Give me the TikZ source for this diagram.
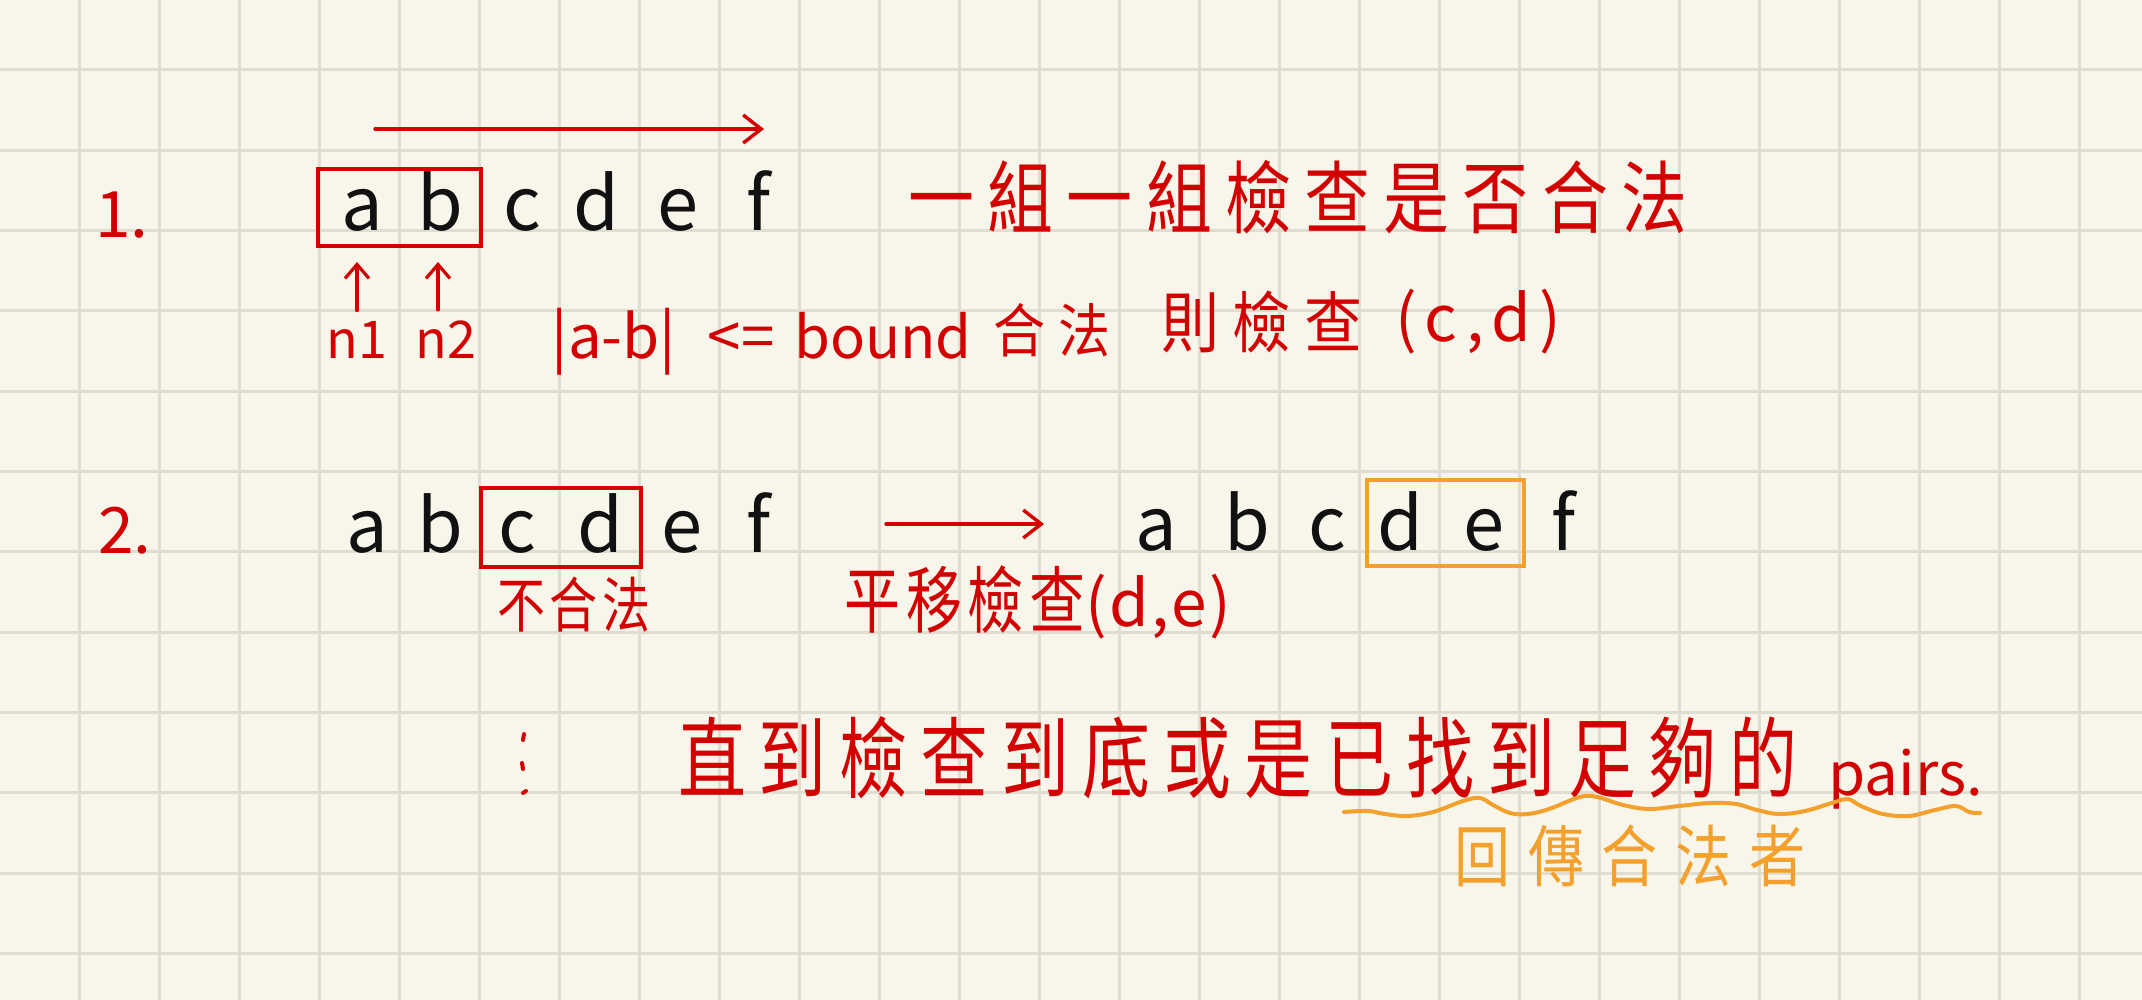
\documentclass[tikz,border=0pt]{standalone}
\usepackage{fontspec}
\usepackage{graphicx}
\newfontfamily\cjk{Noto Sans CJK TC}
\usetikzlibrary{arrows.meta}
\definecolor{bg}{HTML}{F8F6EA}
\definecolor{gridc}{HTML}{DEDDD0}
\definecolor{pen}{HTML}{D20000}
\definecolor{ink}{HTML}{111111}
\definecolor{amber}{HTML}{F4A02C}
\newcommand\cjt[4]{\scalebox{1}[#3]{\fontsize{#1}{#1}\selectfont\cjk\addfontfeature{LetterSpace=#2}#4}}
\newcommand\lat[2]{\fontsize{#1}{#1}\selectfont\cjk #2}
\tikzset{
  gridline/.style={draw=gridc, line width=1.5pt},
  letter/.style={text=ink, inner sep=0, anchor=base, font=\fontsize{37}{37}\selectfont\cjk},
  redtxt/.style={text=pen, inner sep=0},
  orgtxt/.style={text=amber, inner sep=0},
  redbox/.style={draw=pen, line width=2pt, inner sep=0},
  orgbox/.style={draw=amber, line width=2pt, inner sep=0},
  bigarrow/.style={draw=pen, line width=1.7pt, line cap=round, -{Straight Barb[length=9pt,width=14pt]}},
  smallarrow/.style={draw=pen, line width=1.6pt, line cap=round, -{Straight Barb[length=7pt,width=12pt]}},
  wave/.style={draw=amber, line width=2pt, line cap=round, line join=round},
  dotmark/.style={draw=pen, line width=2pt, line cap=round}
}
\begin{document}
\begin{tikzpicture}[x=0.5pt,y=-0.5pt]
\useasboundingbox (0,0) rectangle (2142,1000);
\fill[bg] (0,0) rectangle (2142,1000);
% grid
\foreach \k in {1,...,26} \draw[gridline] (80*\k-1,0) -- (80*\k-1,1000);
\foreach \k in {0,...,11} \draw[gridline] (0,70+80.3*\k) -- (2142,70+80.3*\k);

% ---------- row 1 ----------
\node[redtxt, anchor=base] (one) at (122,238) {\lat{32}{1.}};
\coordinate (s1) at (375,129);
\coordinate (e1) at (764,129);
\draw[bigarrow] (s1) -- (e1);
\node[redbox, minimum width=81.5pt, minimum height=38.5pt] (box1) at (399.5,207.5) {};
\node[letter] (a1) at (362,231) {a};
\node[letter] (b1) at (440,231) {b};
\node[letter] (c1) at (522,231) {c};
\node[letter] (d1) at (596,231) {d};
\node[letter] (e1l) at (678,231) {e};
\node[letter] (f1) at (759,231) {f};
\node[redtxt] (t1) at (1298,197) {\cjt{33}{20}{1.2}{一組一組檢查是否合法}};

\node[redtxt, anchor=base] (n1) at (357,358) {\lat{26}{n1}};
\node[redtxt, anchor=base] (n2) at (446,358) {\lat{26}{n2}};
\coordinate (n1t) at (357,262);
\coordinate (n2t) at (438,262);
\draw[smallarrow, shorten <=5pt] (n1.north) -- (n1t);
\draw[smallarrow, shorten <=5pt] (n2.north -| n2t) -- (n2t);

\node[redtxt, anchor=base] (abs) at (614,358) {\lat{30}{|a-b|}};
\node[redtxt, anchor=base] (le) at (741,358) {\lat{30}{<=}};
\node[redtxt, anchor=base] (bound) at (883,358) {\lat{29}{bound}};
\node[redtxt] (ok1) at (1052,330) {\cjt{26}{25}{1.12}{合法}};
\node[redtxt] (then) at (1262,322) {\cjt{29}{24}{1.15}{則檢查}};
\node[redtxt] (cd) at (1478,322) {\cjt{32}{13}{1}{(c,d)}};

% ---------- row 2 ----------
\node[redtxt, anchor=base] (two) at (125,553) {\lat{32}{2.}};
\node[letter] (a2) at (367,552) {a};
\node[letter] (b2) at (440,552) {b};
\node[letter] (c2) at (517,552) {c};
\node[letter] (d2) at (600,552) {d};
\node[letter] (e2) at (682,552) {e};
\node[letter] (f2) at (759,552) {f};
\node[redbox, minimum width=80pt, minimum height=39.5pt] (box2) at (561,527.5) {};
\node[redtxt] (bad) at (574,605) {\cjt{24}{10}{1.25}{不合法}};

\coordinate (s2) at (886,524);
\coordinate (e2a) at (1044,524);
\draw[bigarrow] (s2) -- (e2a);
\node[redtxt] (shift) at (965,600) {\cjt{28}{10}{1.3}{平移檢查}};
\node[redtxt] (de) at (1158,607) {\cjt{32}{4}{1}{(d,e)}};

\node[letter] (a3) at (1156,550) {a};
\node[letter] (b3) at (1247,550) {b};
\node[letter] (c3) at (1327,550) {c};
\node[letter] (d3) at (1400,550) {d};
\node[letter] (e3) at (1484,550) {e};
\node[letter] (f3) at (1564,550) {f};
\node[orgbox, minimum width=78.5pt, minimum height=43pt] (box3) at (1445.5,523) {};

% ---------- row 3 ----------
\draw[dotmark] (524,734) -- (523,740);
\draw[dotmark] (522,763) -- (523,769);
\draw[dotmark] (523,793) -- (526,791);
\node[redtxt] (until) at (1238,758) {\cjt{34}{19}{1.3}{直到檢查到底或是已找到足夠的}};
\node[redtxt, anchor=base west] (pairs) at (1828,795) {\lat{30}{pairs.}};

\draw[wave] plot[smooth, tension=0.6] coordinates {
 (1344,812) (1368,811) (1385,814) (1407,816) (1433,812) (1463,801) (1480,798)
 (1493,805) (1510,813) (1528,814) (1549,809) (1580,797) (1597,797) (1623,805)
 (1649,809) (1679,806) (1710,803) (1736,804) (1757,810) (1779,814) (1805,811)
 (1835,802) (1848,799) (1861,806) (1883,814) (1909,816) (1935,810) (1956,806)
 (1969,812) (1980,813)};
\node[orgtxt] (ret) at (1630,856) {\cjt{28}{32}{1.2}{回傳合法者}};
\end{tikzpicture}
\end{document}
